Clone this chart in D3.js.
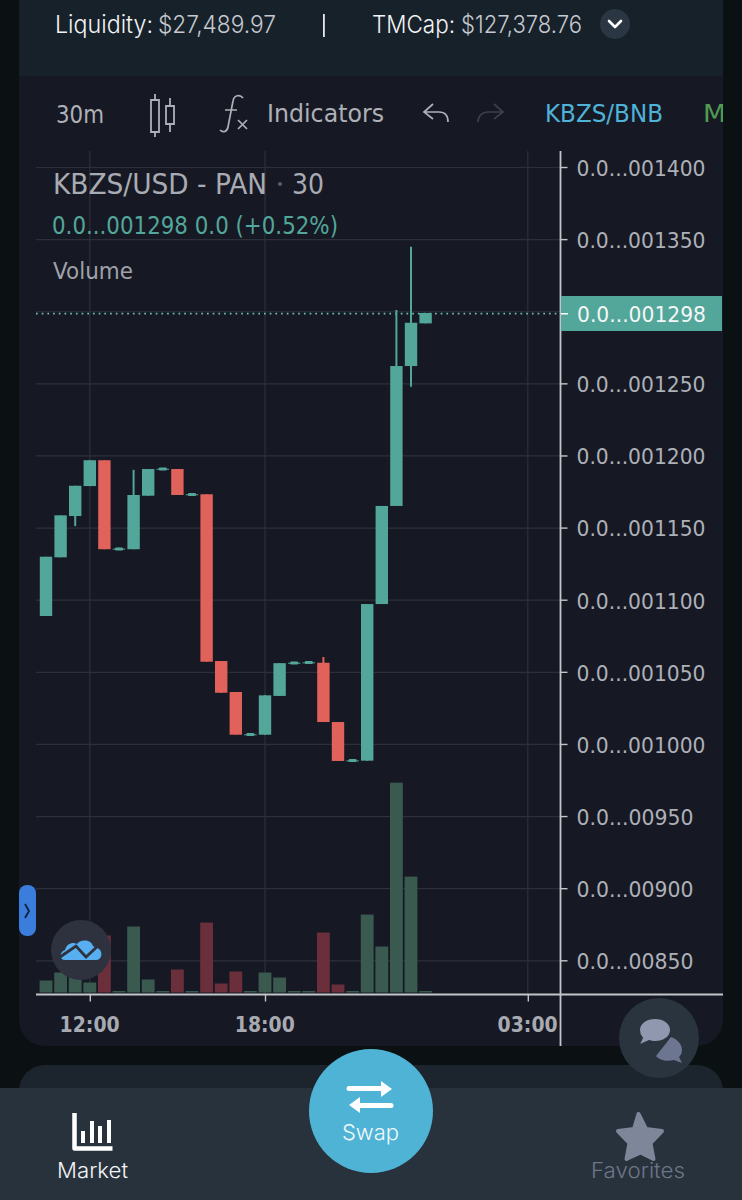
<!DOCTYPE html>
<html><head><meta charset="utf-8">
<script src="https://cdn.jsdelivr.net/npm/d3@7/dist/d3.min.js"></script>
<style>html,body{margin:0;padding:0;background:#0b1013;overflow:hidden}svg{display:block}</style>
</head><body><svg id="c" width="742" height="1200"></svg>
<script>
const barTimes=["10:30","11:00","11:30","12:00","12:30","13:00","13:30","14:00","14:30","15:00","15:30","16:00","16:30","17:00","17:30","18:00","18:30","19:00","19:30","20:00","20:30","21:00","21:30","22:00","22:30","23:00","23:30"];
const opens =[1088.7,1129.4,1158,1178.8,1196.7,1135,1135,1172.1,1190.4,1190.6,1172.8,1173.1,1057.5,1036,1006.4,1006.4,1033.3,1056,1056.4,1056.3,1015.2,988.4,988.4,1097,1165,1262,1291.6];
const closes=[1129.8,1158.5,1179,1196.7,1135,1135.4,1172.6,1190.6,1190.8,1172.6,1173.1,1057,1035.5,1006.4,1006.7,1033.7,1056,1056.3,1056.6,1015.2,988.2,988.6,1097,1165,1262,1292,1298.8];
const highs =[1129.8,1158.5,1179,1196.7,1196.7,1136,1190,1190.6,1191.2,1190.6,1173.6,1173.1,1057.5,1036,1007.2,1033.7,1056,1056.9,1057.2,1060.3,1015.2,989.2,1097,1165,1300.9,1344.7,1298.8];
const lows  =[1088.7,1129.4,1151,1178.8,1135,1134.4,1135,1172.1,1190,1172.6,1172.2,1057,1035.5,1006.4,1005.9,1006.4,1033.3,1055.7,1055.9,1015.2,988.2,987.8,988.4,1097,1165,1247.7,1291.6];
const volumes=[12,20,17,10,57,1.5,66,13,1.5,23,1.5,70,9,21,1.5,20,15,1.5,1.5,60,8,1.5,78,46,210,116,1.5];
const priceTicks=[1400,1350,1300,1250,1200,1150,1100,1050,1000,950,900,850];
const priceLabels=["0.0...001400","0.0...001350","","0.0...001250","0.0...001200","0.0...001150","0.0...001100","0.0...001050","0.0...001000","0.0...00950","0.0...00900","0.0...00850"];
const timeTicks=["12:00","18:00","03:00"];
const lastPrice=1298.4;

const UP="#53a69a",DOWN="#e0625a",VUP="#3a5a4f",VDOWN="#6a2f3b",GRID="#2d303a",AXIS="#c4c5c9",LBL="#aeb0b8";
const TV="'DejaVu Sans', sans-serif",UI="Inter, 'Open Sans', sans-serif";
const svg=d3.select("#c");
const parse=d3.timeParse("%Y-%m-%d %H:%M");
const t=s=>parse("2021-05-01 "+s);
const nextDay=s=>parse("2021-05-02 "+s);
const x=d3.scaleTime().domain([t("10:30"),nextDay("03:00")]).range([46,527.8]);
const y=d3.scaleLinear().domain([1400,850]).range([167,960.3]);
const yV=d3.scaleLinear().domain([0,210]).range([992.5,782.7]);

function txt(g,s,x0,x1,base,size,fill,font,weight){
  return g.append("text").attr("x",x0).attr("y",base).attr("font-size",size).attr("fill",fill)
   .attr("font-family",font).attr("font-weight",weight||400)
   .attr("textLength",x1-x0).attr("lengthAdjust","spacingAndGlyphs").text(s);
}
// panels
svg.append("rect").attr("width",742).attr("height",1200).attr("fill","#0b1013");
svg.append("path").attr("d","M19 0H723V1020a26 26 0 0 1-26 26H45a26 26 0 0 1-26-26Z").attr("fill","#161923");
svg.append("rect").attr("x",19).attr("y",0).attr("width",704).attr("height",76).attr("fill","#17212a");
svg.append("rect").attr("x",19).attr("y",1065).attr("width",704).attr("height",60).attr("rx",26).attr("fill","#1c252d");
svg.append("rect").attr("x",0).attr("y",1088).attr("width",742).attr("height",112).attr("fill","#28323d");

// header
const h=svg.append("g");
txt(h,"Liquidity:",55,153,33,24,"#f2f3f5",UI,300);
txt(h,"$27,489.97",158,276,33,24,"#c6c9cf",UI,300);
h.append("rect").attr("x",323).attr("y",14).attr("width",1.8).attr("height",23).attr("fill","#e6e7ea");
txt(h,"TMCap:",372,455,33,24,"#f2f3f5",UI,300);
txt(h,"$127,378.76",461,582,33,24,"#c6c9cf",UI,300);
h.append("circle").attr("cx",615).attr("cy",24).attr("r",15).attr("fill","#2a3641");
h.append("path").attr("d","M609 21l6 6 6-6").attr("fill","none").attr("stroke","#fff").attr("stroke-width",2.6).attr("stroke-linecap","round").attr("stroke-linejoin","round");

// toolbar
const b=svg.append("g");
txt(b,"30m",56,104,123,25,LBL,TV);
b.append("path").attr("d","M151 100h8v32h-8ZM155 94v6M155 132v5M166 106h8v18h-8ZM170 98v8M170 124v8").attr("fill","none").attr("stroke",LBL).attr("stroke-width",1.8);
b.append("path").attr("d","M243 98c-3-4-9-3-10 3l-5 26c-1 5-5 6-8 3M225 110h12").attr("fill","none").attr("stroke",LBL).attr("stroke-width",1.7);
b.append("path").attr("d","M238 120l9 9M247 120l-9 9").attr("fill","none").attr("stroke",LBL).attr("stroke-width",1.7);
txt(b,"Indicators",267,384,122,25,LBL,TV);
b.append("path").attr("d","M433 104l-9 8 9 7M424 112h15c6 0 9 4 9 10").attr("fill","none").attr("stroke",LBL).attr("stroke-width",1.7);
b.append("path").attr("d","M494 104l9 8-9 7M503 112h-15c-6 0-10 4-10 10").attr("fill","none").attr("stroke","#3b3f4a").attr("stroke-width",1.7);
txt(b,"KBZS/BNB",545,663,122,25,"#4fb2d8",TV);
svg.append("clipPath").attr("id","cl").append("rect").attr("x",0).attr("y",0).attr("width",723).attr("height",1200);
txt(b.append("g").attr("clip-path","url(#cl)"),"M",703,726,122,25,"#4f9c52",TV);

// grid
const plot=svg.append("g");
plot.selectAll(".gh").data(priceTicks).join("line").attr("x1",36).attr("x2",560).attr("y1",d=>y(d)+.5).attr("y2",d=>y(d)+.5).attr("stroke",GRID).attr("stroke-width",1.2);
const gridTimes=[t(timeTicks[0]),t(timeTicks[1]),nextDay(timeTicks[2])];
plot.selectAll(".gv").data(gridTimes).join("line").attr("x1",d=>x(d)).attr("x2",d=>x(d)).attr("y1",151).attr("y2",994).attr("stroke",GRID).attr("stroke-width",1.2);

// legend
txt(plot,"KBZS/USD - PAN",53,267,194,28,"#a9abb3",TV);
plot.append("circle").attr("cx",280).attr("cy",184).attr("r",2).attr("fill","#5a5d68");
txt(plot,"30",292,324,194,28,"#a9abb3",TV);
txt(plot,"0.0...001298 0.0 (+0.52%)",52,338,234,25,UP,TV);
txt(plot,"Volume",53,133,279,23.5,"#a0a2aa",TV);

const idx=d3.range(barTimes.length);
// volume
plot.selectAll(".v").data(idx).join("rect").attr("x",i=>x(t(barTimes[i]))-6.4).attr("width",12.8)
 .attr("y",i=>yV(volumes[i])).attr("height",i=>yV(0)-yV(volumes[i]))
 .attr("fill",i=>closes[i]>=opens[i]?VUP:VDOWN);
// price line
plot.append("line").attr("x1",36).attr("x2",560).attr("y1",y(lastPrice)).attr("y2",y(lastPrice)).attr("stroke","#6bbdb0").attr("stroke-width",1.7).attr("stroke-dasharray","1.7 4");
// candles
const col=i=>closes[i]>=opens[i]?UP:DOWN;
plot.selectAll(".w").data(idx).join("line").attr("x1",i=>x(t(barTimes[i]))).attr("x2",i=>x(t(barTimes[i])))
 .attr("y1",i=>y(highs[i])).attr("y2",i=>y(lows[i])).attr("stroke",col).attr("stroke-width",2);
plot.selectAll(".b").data(idx).join("rect").attr("x",i=>x(t(barTimes[i]))-6.2).attr("width",12.4)
 .attr("y",i=>Math.min(y(opens[i]),y(closes[i])))
 .attr("height",i=>Math.max(1,Math.abs(y(opens[i])-y(closes[i])))).attr("fill",col);
// doji centre thickening
plot.selectAll(".d").data(idx.filter(i=>Math.abs(opens[i]-closes[i])<1)).join("rect").attr("x",i=>x(t(barTimes[i]))-4).attr("width",8)
 .attr("y",i=>y((opens[i]+closes[i])/2)-1.5).attr("height",3).attr("rx",1).attr("fill",UP);

// axes
const ay=plot.append("g").attr("transform","translate(560.5,0)").call(d3.axisRight(y).tickValues(priceTicks).tickSize(7).tickPadding(9).tickFormat((d,i)=>priceLabels[i]));
ay.select(".domain").remove();
ay.selectAll("line").attr("stroke",AXIS).attr("stroke-width",1.4);
ay.selectAll("text").attr("fill",LBL).attr("font-family",TV).attr("font-size",22).attr("textLength",129).attr("lengthAdjust","spacingAndGlyphs").attr("dy","0.38em");
ay.selectAll("text").filter(function(){return this.textContent.length<12}).attr("textLength",117);
ay.selectAll(".tick").filter(d=>d===1300).remove();
plot.append("line").attr("x1",560.5).attr("x2",560.5).attr("y1",151).attr("y2",1046).attr("stroke",AXIS).attr("stroke-width",1.8);
const ax=plot.append("g").attr("transform","translate(0,994.5)").call(d3.axisBottom(x).tickValues(gridTimes).tickSize(7).tickPadding(15).tickFormat((d,i)=>timeTicks[i]));
ax.select(".domain").remove();
ax.selectAll("line").attr("stroke",AXIS).attr("stroke-width",1.4);
ax.selectAll("text").attr("fill","#a8aab2").attr("font-family","'DejaVu Sans', sans-serif").attr("font-size",22).attr("font-weight",700).attr("textLength",60).attr("lengthAdjust","spacingAndGlyphs").attr("dx",-0.7);
plot.append("line").attr("x1",36).attr("x2",723).attr("y1",994.5).attr("y2",994.5).attr("stroke",AXIS).attr("stroke-width",1.8);

// price tag
plot.append("rect").attr("x",561).attr("y",296).attr("width",161).attr("height",35).attr("fill",UP);
plot.append("rect").attr("x",561).attr("y",313).attr("width",7).attr("height",1.5).attr("fill","#fff");
txt(plot,"0.0...001298",577,706,321.5,22,"#f4f7f6",TV);

// side tab
svg.append("rect").attr("x",19).attr("y",885).attr("width",17).attr("height",51).attr("rx",8).attr("fill","#3b7ddd");
svg.append("path").attr("d","M25 904l4 7-4 7").attr("fill","none").attr("stroke","#10213c").attr("stroke-width",1.8);
// logo
svg.append("circle").attr("cx",81).attr("cy",950).attr("r",30).attr("fill","#2e323f");
svg.append("path").attr("d","M65 960c-6 0-6-8 0-10 2-7 8-8 12-6 3-5 14-5 16 2 2 2 4 1 6 3 4 3 3 11-3 11Z").attr("fill","#57aef0");
svg.append("path").attr("d","M60 957l16-11 10 11 14-13").attr("fill","none").attr("stroke","#2e323f").attr("stroke-width",2.8);
// chat bubble
svg.append("circle").attr("cx",659).attr("cy",1038).attr("r",40).attr("fill","#2a343f");
svg.append("path").attr("d","M671 1037c6 2 11 7 11 13 0 3-1 5-3 7l3 6-8-3c-7 2-15 0-18-4Z").attr("fill","#6c7690");
svg.append("path").attr("d","M655 1018c9 0 16 5 16 12s-7 12-16 12c-2 0-4 0-6-1l-11 5 4-8c-2-2-3-5-3-8 0-7 7-12 16-12Z").attr("fill","#8f98ae").attr("stroke","#2a343f").attr("stroke-width",2);

// bottom nav
const n=svg.append("g");
n.append("path").attr("d","M74.500 1113v35.500h38").attr("fill","none").attr("stroke","#fff").attr("stroke-width",4.5).attr("stroke-linejoin","round");
n.selectAll(".mb").data([[83,1131,1143],[92,1121,1143],[100,1126,1143],[109,1120,1143]]).join("line").attr("x1",d=>d[0]).attr("x2",d=>d[0]).attr("y1",d=>d[1]).attr("y2",d=>d[2]).attr("stroke","#fff").attr("stroke-width",4);
txt(n,"Market",57,128,1178,21,"#f4f5f7",UI,300);
n.append("ellipse").attr("cx",371).attr("cy",1111).attr("rx",62).attr("ry",62).attr("fill","#4fb3d5");
n.append("path").attr("d","M349 1088.500h34").attr("stroke","#fff").attr("stroke-width",5).attr("stroke-linecap","round");
n.append("path").attr("d","M381 1081l11 8-11 8ZM360 1097l-11 8 11 8Z").attr("fill","#fff");
n.append("path").attr("d","M358 1105.500h33").attr("stroke","#fff").attr("stroke-width",5).attr("stroke-linecap","round");
txt(n,"Swap",342,399,1140,22,"#f1f8fb",UI,300);
n.append("path").attr("d","M638.500 1114l7.500 15 16 2-11.500 12 3 16-13-6.500-14 6.500 3-16-11.500-12 16-2Z").attr("fill","#7e8799").attr("stroke","#7e8799").attr("stroke-width",4).attr("stroke-linejoin","round");
txt(n,"Favorites",591,685,1178,21,"#6d7687",UI,300);
</script></body></html>
